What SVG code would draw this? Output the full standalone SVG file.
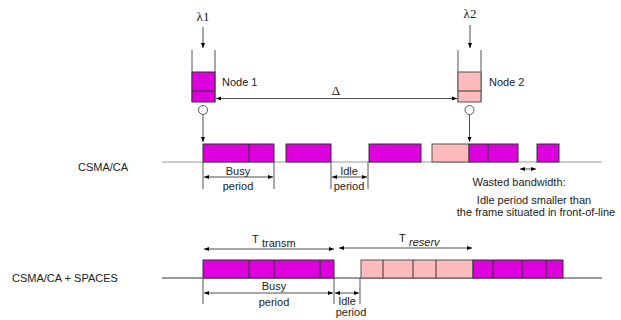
<svg xmlns="http://www.w3.org/2000/svg" width="621" height="320" viewBox="0 0 621 320">
<defs>
<marker id="ah" viewBox="0 0 10 10" refX="10" refY="5" markerWidth="6" markerHeight="5" orient="auto-start-reverse" markerUnits="userSpaceOnUse">
<path d="M0,1 L10,5 L0,9 z" fill="#000"/>
</marker>
<style>
.t{font-family:"Liberation Sans",Arial,sans-serif;font-size:11px;fill:#222}
.s{font-family:"Liberation Serif","Times New Roman",serif;font-size:13px;fill:#222}
.mg{fill:#dd00dd;stroke:#333;stroke-width:1}
.pk{fill:#ffbbbb;stroke:#555;stroke-width:1}
.ln{stroke:#333;stroke-width:1;fill:none}
.gl{stroke:#999;stroke-width:1.2;fill:none}
.ar{stroke:#222;stroke-width:0.8;fill:none;marker-end:url(#ah)}
.da{stroke:#222;stroke-width:0.8;fill:none;marker-start:url(#ah);marker-end:url(#ah)}
.wl{stroke:#555;stroke-width:1;fill:none}
</style>
</defs>
<rect width="621" height="320" fill="#fff"/>

<g id="node1">
<text class="s" x="203" y="21" text-anchor="middle">λ1</text>
<path class="wl" d="M192,50 V102 M215,50 V102"/>
<rect class="mg" x="192" y="72" width="23" height="30"/>
<line class="ln" x1="192" y1="91" x2="215" y2="91"/>
<circle cx="203" cy="110" r="4.5" fill="#fff" stroke="#555"/>
<text class="t" x="222" y="86">Node 1</text>
</g>

<g id="node2">
<text class="s" x="470" y="18" text-anchor="middle">λ2</text>
<path class="wl" d="M458,50 V102 M481,50 V102"/>
<rect class="pk" x="458" y="72" width="23" height="30"/>
<line class="ln" x1="458" y1="91" x2="481" y2="91"/>
<circle cx="469.5" cy="110" r="4.5" fill="#fff" stroke="#555"/>
<text class="t" x="489" y="86">Node 2</text>
</g>

<g id="connectors">
<line class="ar" x1="203" y1="27" x2="203" y2="48"/>
<line class="ar" x1="470" y1="25" x2="470" y2="48"/>
<line class="da" x1="216" y1="98.5" x2="457" y2="98.5"/>
<line class="ar" x1="203" y1="115" x2="203" y2="142"/>
<line class="ar" x1="469.5" y1="115" x2="469.5" y2="142"/>
</g>
<text class="s" x="336" y="95" text-anchor="middle">Δ</text>

<g id="csmaca">
<text class="t" x="78" y="171">CSMA/CA</text>
<line class="gl" x1="162" y1="162" x2="602" y2="162"/>
<rect class="mg" x="203" y="144" width="71" height="18"/>
<line class="ln" x1="249" y1="144" x2="249" y2="162"/>
<rect class="mg" x="286" y="144" width="45" height="18"/>
<rect class="mg" x="369" y="144" width="52" height="18"/>
<rect class="pk" x="432" y="144" width="37" height="18"/>
<rect class="mg" x="469" y="144" width="49" height="18"/>
<line class="ln" x1="488" y1="144" x2="488" y2="162"/>
<rect class="mg" x="537" y="144" width="22" height="18"/>
<path class="wl" d="M203,162 V189 M274,162 V189 M331,162 V189 M368,162 V189"/>
<line class="da" x1="204" y1="177" x2="273" y2="177"/>
<line class="da" x1="332" y1="177" x2="367" y2="177"/>
<text class="t" x="238" y="175" text-anchor="middle">Busy</text>
<text class="t" x="238" y="190" text-anchor="middle">period</text>
<text class="t" x="349" y="175" text-anchor="middle">Idle</text>
<text class="t" x="349" y="190" text-anchor="middle">period</text>
<line class="da" x1="520" y1="169" x2="536" y2="169"/>
<text class="t" x="519" y="186" text-anchor="middle">Wasted bandwidth:</text>
<text class="t" x="534" y="204" text-anchor="middle" font-size="10.5">Idle period smaller than</text>
<text class="t" x="536" y="216" text-anchor="middle" font-size="10.5">the frame situated in front-of-line</text>
</g>

<g id="spaces">
<text class="t" x="12" y="282">CSMA/CA + SPACES</text>
<line class="ln" x1="162" y1="278" x2="602" y2="278"/>
<line class="da" x1="204" y1="249" x2="334" y2="249"/>
<line class="da" x1="339" y1="248" x2="472" y2="248"/>
<text class="t" x="252" y="243" font-size="11.5">T</text>
<text class="t" x="262" y="247" font-size="9.5">transm</text>
<text class="t" x="399" y="242" font-size="11.5">T</text>
<text class="t" x="409" y="246" font-size="9.5" font-style="italic">reserv</text>
<rect class="mg" x="203" y="260" width="131" height="18"/>
<path class="ln" d="M249,260 V278 M274,260 V278 M320,260 V278"/>
<rect class="pk" x="361" y="260" width="112" height="18"/>
<path class="ln" d="M383,260 V278 M413,260 V278 M436,260 V278"/>
<rect class="mg" x="473" y="260" width="90" height="18"/>
<path class="ln" d="M493,260 V278 M522,260 V278 M546,260 V278"/>
<path class="wl" d="M203,278 V304 M334,278 V304 M360,278 V304"/>
<line class="da" x1="204" y1="293" x2="333" y2="293"/>
<line class="da" x1="335" y1="293" x2="359" y2="293"/>
<text class="t" x="274" y="290" text-anchor="middle">Busy</text>
<text class="t" x="274" y="306" text-anchor="middle">period</text>
<text class="t" x="347" y="305" text-anchor="middle">Idle</text>
<text class="t" x="351" y="316" text-anchor="middle">period</text>
</g>
</svg>
